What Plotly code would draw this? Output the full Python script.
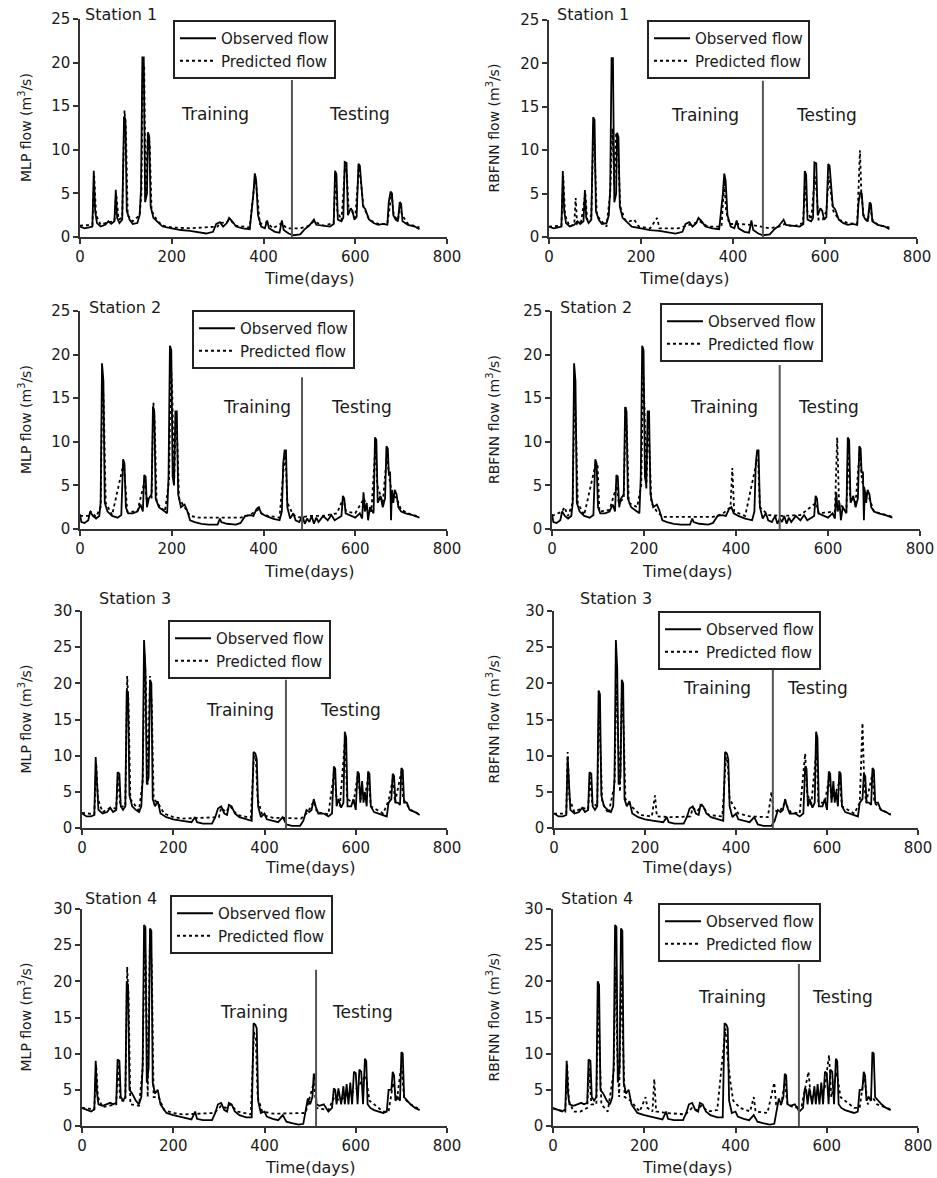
import plotly.graph_objects as go

W, H = 937, 1178
FONT = "DejaVu Sans"
TXT = "#1a1a1a"

# ---------------- data (day, flow m3/s) ----------------
st1_obs = [(0,1.2),(10,1.0),(20,1.1),(27,1.2),(30,7.6),(33,3.0),(37,1.6),(45,1.2),(55,1.4),(62,1.8),(68,1.5),
           (75,1.8),(78,5.4),(81,2.2),(86,1.6),(92,2.0),(96,13.8),(99,13.5),(102,3.0),(108,2.0),(115,1.5),(125,1.6),
           (130,2.5),(133,5.5),(136,20.6),(139,20.6),(142,4.0),(146,5.0),(148,12.0),(151,11.5),(154,3.5),(160,2.2),
           (168,1.8),(180,1.2),(200,1.0),(220,0.8),(240,0.7),(250,0.6),(260,0.5),(275,0.4),(290,0.6),(297,1.5),
           (305,1.7),(312,1.2),(320,1.6),(325,2.2),(332,1.8),(340,1.2),(355,1.0),(370,0.9),(378,5.0),(381,7.3),
           (384,6.5),(388,2.5),(395,1.2),(403,1.0),(408,1.9),(412,1.0),(425,0.6),(435,0.5),(440,1.9),(444,0.8),
           (455,0.4),(465,0.2),(480,0.3),(490,0.9),(500,1.3),(505,1.6),(510,2.0),(515,1.4),(530,1.3),(545,1.2),
           (553,1.5),(556,7.6),(559,7.2),(562,2.0),(570,1.8),(574,2.2),(577,8.6),(581,8.5),(584,2.5),(590,3.3),
           (594,3.0),(598,2.0),(603,2.3),(607,8.4),(610,8.2),(613,6.5),(617,3.5),(622,3.2),(630,2.0),(640,1.6),
           (650,1.4),(660,1.5),(670,1.4),(673,4.0),(677,5.2),(680,5.0),(683,2.5),(688,2.0),(693,1.8),(697,4.0),
           (700,3.8),(703,1.8),(715,1.4),(730,1.2),(740,0.9)]
st1_mlp = [(0,1.3),(27,1.4),(31,7.0),(35,2.5),(45,1.4),(62,1.7),(75,1.8),(79,5.0),(84,2.0),(92,2.2),(97,14.5),
           (100,12.5),(104,2.5),(115,1.8),(130,2.5),(134,5.0),(137,20.0),(140,19.5),(143,4.5),(148,12.0),(152,10.5),
           (156,3.0),(168,1.9),(180,1.3),(200,1.1),(240,1.0),(300,1.2),(305,1.6),(320,1.7),(326,2.0),(340,1.3),
           (370,1.1),(379,5.5),(382,7.0),(386,5.0),(392,1.5),(408,1.7),(420,1.0),(440,1.6),(450,1.0),(480,1.0),
           (495,1.2),(510,1.8),(530,1.3),(553,1.6),(557,7.2),(561,3.0),(570,1.9),(578,8.3),(582,7.0),(586,2.8),
           (592,3.0),(600,2.2),(608,8.0),(612,6.5),(618,3.5),(630,2.0),(650,1.5),(670,1.5),(675,3.8),(679,5.0),
           (684,2.5),(693,1.9),(698,3.5),(702,2.5),(715,1.5),(740,1.1)]
st1_rbf = [(0,1.2),(27,1.3),(31,7.0),(35,2.5),(45,1.2),(55,1.5),(58,4.5),(61,1.5),(70,1.8),(79,5.0),(83,2.0),
           (92,2.5),(97,13.0),(101,8.0),(104,2.5),(118,1.6),(125,1.2),(133,5.0),(138,12.5),(142,6.0),(146,12.0),
           (150,10.0),(155,3.5),(165,2.0),(175,1.8),(185,2.0),(195,1.2),(220,1.0),(235,2.2),(240,1.0),(280,1.0),
           (300,1.3),(310,1.5),(328,1.8),(345,1.2),(375,1.2),(381,6.5),(385,3.0),(392,1.5),(410,1.5),(440,1.4),
           (460,1.2),(480,1.0),(500,1.2),(512,1.5),(530,1.2),(552,1.6),(557,6.0),(561,3.0),(570,2.0),(578,7.0),
           (582,5.0),(586,2.0),(595,2.0),(603,3.0),(608,7.0),(612,5.5),(618,3.0),(630,2.0),(650,1.6),(670,1.5),
           (676,10.0),(679,5.0),(684,2.5),(693,1.8),(698,3.5),(703,2.0),(715,1.4),(740,1.1)]

st2_obs = [(0,1.7),(3,0.8),(10,0.7),(18,1.0),(22,2.0),(28,1.5),(35,1.2),(42,1.5),(45,3.0),(48,19.0),(51,17.0),
           (54,3.0),(60,2.0),(70,1.5),(82,1.3),(90,1.6),(94,8.0),(97,7.5),(100,2.5),(105,1.8),(115,1.8),(125,2.0),
           (132,2.8),(137,2.0),(140,6.2),(143,6.0),(146,2.5),(150,3.5),(156,4.0),(159,14.0),(162,13.5),(165,3.5),
           (172,2.5),(180,2.2),(190,1.8),(193,6.0),(196,21.0),(199,20.5),(202,6.0),(205,5.0),(208,13.5),(211,13.5),
           (214,4.0),(220,2.5),(228,2.8),(233,2.2),(240,1.0),(250,0.8),(265,0.6),(280,0.5),(300,0.5),(305,1.2),
           (308,0.8),(320,0.6),(340,0.5),(350,0.7),(360,1.5),(370,1.6),(378,1.5),(385,2.3),(390,2.5),(395,1.8),
           (405,1.5),(420,1.2),(435,1.0),(440,2.0),(443,7.5),(446,9.0),(449,9.0),(452,2.5),(458,1.2),(465,1.8),
           (470,1.0),(478,0.8),(485,1.5),(490,0.6),(495,1.2),(500,0.8),(505,1.5),(510,0.6),(515,1.3),(520,0.8),
           (530,1.5),(540,1.0),(548,1.6),(555,1.0),(565,1.4),(570,1.5),(573,3.8),(576,3.5),(579,1.8),(590,1.5),
           (600,1.3),(610,1.8),(615,1.2),(618,4.2),(621,2.0),(625,3.0),(628,1.0),(632,2.5),(640,1.8),(643,10.5),
           (646,10.2),(649,3.0),(655,3.8),(660,2.5),(665,3.5),(668,9.5),(671,9.2),(673,6.5),(676,6.5),(678,1.0),
           (680,4.5),(683,3.0),(686,4.5),(690,4.0),(694,2.5),(700,2.0),(710,1.8),(725,1.6),(740,1.3)]
st2_mlp = [(0,1.5),(20,1.5),(23,2.0),(35,1.4),(45,2.5),(49,17.5),(52,14.0),(56,3.0),(70,1.6),(95,7.5),(99,5.0),
           (103,2.0),(125,2.0),(141,5.5),(145,3.5),(156,3.5),(160,14.5),(163,12.0),(167,3.0),(185,2.0),(194,5.5),
           (198,19.0),(201,16.0),(205,5.0),(209,13.0),(212,10.0),(216,3.5),(228,2.5),(240,1.5),(260,1.3),(350,1.3),
           (370,1.6),(388,2.2),(400,1.6),(435,1.3),(444,7.0),(448,8.5),(452,3.0),(465,1.6),(480,1.3),(500,1.5),
           (530,1.5),(560,1.8),(574,3.5),(580,2.0),(600,1.8),(619,3.5),(625,2.5),(635,2.0),(644,9.5),(648,5.0),
           (660,3.0),(669,8.5),(674,6.0),(680,4.0),(690,3.5),(700,2.2),(720,1.7),(740,1.4)]
st2_rbf = [(0,1.5),(22,2.0),(27,2.5),(35,1.5),(45,3.0),(49,16.0),(52,12.0),(56,3.0),(70,1.6),(95,7.5),(99,7.5),
           (103,2.0),(125,2.2),(141,5.0),(145,3.0),(156,3.5),(160,14.0),(163,11.0),(167,3.0),(185,2.5),(194,5.0),
           (198,18.0),(201,14.0),(205,4.5),(209,12.0),(212,9.0),(216,3.0),(228,2.0),(240,1.4),(350,1.4),(370,1.7),
           (388,2.5),(392,7.0),(396,2.0),(420,1.5),(444,7.5),(448,8.0),(452,2.5),(470,1.6),(500,1.5),(540,1.6),
           (574,3.0),(580,1.8),(615,2.0),(620,10.5),(624,3.0),(640,2.0),(644,9.5),(648,3.5),(660,3.0),(669,9.0),
           (674,5.5),(680,4.5),(690,3.5),(700,2.0),(720,1.7),(740,1.4)]

st3_obs = [(0,2.0),(10,1.6),(20,1.6),(27,1.8),(30,9.8),(33,5.0),(36,2.5),(45,2.0),(55,2.2),(62,2.8),(68,2.2),
           (75,2.5),(78,7.7),(82,7.5),(85,3.0),(90,2.5),(95,3.0),(98,19.0),(101,18.5),(104,4.5),(110,3.0),(118,2.5),
           (125,2.2),(130,3.0),(133,7.0),(136,26.0),(139,22.0),(142,6.0),(146,7.0),(149,20.5),(152,20.0),(155,4.0),
           (160,3.0),(166,3.7),(172,2.0),(185,1.5),(200,1.2),(220,1.0),(240,0.8),(248,1.5),(252,0.8),(265,0.6),
           (285,0.6),(292,1.5),(298,2.7),(305,3.0),(312,2.0),(318,1.8),(322,3.2),(328,3.0),(335,2.0),(345,1.5),
           (360,1.2),(372,1.0),(376,10.5),(380,10.3),(383,9.5),(386,3.0),(392,1.5),(400,2.0),(405,1.2),(418,1.0),
           (430,0.8),(440,1.5),(448,0.5),(460,0.3),(478,0.3),(485,1.0),(492,2.5),(498,2.2),(503,2.5),(508,4.0),
           (512,3.0),(518,2.0),(530,2.0),(540,1.6),(548,2.0),(552,8.5),(555,8.2),(558,3.0),(562,4.0),(568,2.8),
           (573,3.5),(576,13.3),(579,12.5),(582,3.0),(590,3.0),(595,4.0),(600,2.5),(604,7.8),(607,7.5),(610,3.5),
           (614,6.5),(617,3.5),(620,5.0),(624,3.0),(627,7.8),(630,7.5),(633,3.0),(640,2.2),(650,2.0),(660,1.8),
           (668,1.6),(672,3.5),(678,4.0),(681,7.5),(684,7.2),(687,3.5),(692,3.5),(697,3.2),(700,8.3),(703,8.0),
           (706,3.5),(712,3.5),(718,2.5),(730,2.2),(740,1.8)]
st3_mlp = [(0,2.1),(27,1.9),(31,9.0),(35,4.0),(45,2.2),(62,2.8),(75,2.7),(79,7.2),(84,3.0),(95,3.0),(99,21.0),
           (102,17.0),(106,4.0),(125,2.4),(133,6.5),(137,24.0),(140,20.0),(144,6.0),(149,21.0),(153,17.0),(157,4.0),
           (168,3.3),(180,2.0),(200,1.5),(220,1.3),(300,1.5),(305,2.8),(315,2.2),(325,3.0),(340,1.8),(370,1.4),
           (377,10.0),(381,9.5),(385,4.0),(395,1.8),(420,1.4),(440,1.4),(480,1.3),(495,2.2),(508,3.7),(515,2.2),
           (540,1.9),(553,8.0),(557,4.5),(565,3.0),(577,12.5),(581,4.0),(595,3.5),(605,7.5),(610,4.0),(620,4.5),
           (628,7.0),(633,3.0),(660,2.0),(672,3.8),(682,7.0),(686,3.5),(700,7.8),(704,4.0),(720,2.5),(740,1.9)]
st3_rbf = [(0,2.0),(27,2.0),(30,10.5),(34,4.0),(45,2.2),(62,2.8),(75,2.6),(79,7.0),(84,3.5),(95,3.0),(99,17.0),
           (102,12.0),(106,3.5),(120,2.0),(133,6.0),(137,20.0),(141,12.0),(145,5.0),(149,18.0),(153,14.0),(157,4.0),
           (170,3.0),(190,1.8),(215,1.6),(222,4.5),(226,1.6),(260,1.5),(300,1.6),(305,2.8),(315,2.3),(325,3.2),
           (340,1.8),(370,1.6),(378,9.8),(382,9.0),(386,4.0),(395,3.0),(405,2.0),(430,1.6),(470,1.5),(478,5.0),
           (482,2.5),(495,2.2),(508,3.5),(520,2.2),(540,2.0),(552,10.3),(556,5.0),(565,3.0),(577,11.0),(581,3.5),
           (595,3.5),(605,7.0),(610,4.0),(620,5.0),(628,6.5),(633,3.0),(660,2.0),(672,3.5),(678,14.5),(682,6.0),
           (686,3.5),(700,7.5),(704,3.5),(720,2.5),(740,1.9)]

st4_obs = [(0,2.5),(10,2.2),(20,2.0),(27,2.3),(30,9.0),(33,4.5),(36,3.0),(45,2.8),(55,3.0),(62,3.2),(68,3.0),
           (75,3.2),(78,9.2),(82,9.0),(85,4.0),(90,3.5),(95,4.0),(98,20.0),(101,19.5),(104,5.0),(110,4.5),(118,3.5),
           (125,3.0),(130,4.0),(133,8.5),(136,27.8),(139,27.5),(142,6.0),(146,8.0),(149,27.3),(152,27.0),(155,6.0),
           (160,4.5),(166,5.0),(172,3.0),(185,1.8),(200,1.5),(220,1.2),(240,0.9),(248,2.0),(252,1.0),(265,0.8),
           (285,0.8),(292,1.8),(298,3.0),(305,3.2),(312,2.2),(318,2.0),(322,3.2),(328,3.0),(335,2.0),(345,1.5),
           (360,1.2),(372,1.2),(376,14.2),(380,14.0),(383,13.5),(386,3.5),(392,1.8),(400,2.0),(405,1.3),(418,1.0),
           (430,0.8),(440,1.5),(448,0.6),(460,0.4),(475,0.2),(485,0.3),(490,2.0),(495,3.8),(500,3.0),(505,4.0),
           (508,7.2),(511,7.0),(514,3.0),(520,2.8),(530,3.0),(540,2.0),(548,2.5),(552,5.2),(555,5.0),(558,3.0),
           (562,5.2),(568,3.0),(573,5.5),(576,3.0),(580,5.8),(584,3.0),(588,6.0),(592,3.0),(596,7.5),(600,7.3),
           (604,3.0),(608,7.8),(612,7.5),(616,3.0),(620,9.3),(623,9.0),(626,3.0),(632,2.5),(640,2.2),(650,2.0),
           (660,1.8),(668,2.0),(672,5.0),(678,5.0),(681,7.5),(684,7.0),(687,3.5),(692,4.0),(697,3.5),(700,10.2),
           (703,10.0),(706,4.0),(712,3.5),(720,3.0),(730,2.5),(740,2.2)]
st4_mlp = [(0,2.5),(27,2.3),(31,8.5),(35,4.0),(45,2.6),(75,3.0),(79,8.5),(84,3.5),(95,3.5),(99,22.0),(102,18.0),
           (106,3.0),(125,2.8),(133,8.0),(137,26.0),(140,22.0),(144,4.0),(149,26.5),(153,22.0),(157,4.0),(168,4.0),
           (180,2.2),(200,1.8),(220,1.6),(290,1.8),(305,2.8),(315,2.5),(325,3.0),(340,2.0),(370,1.6),(377,13.0),
           (381,12.0),(385,4.0),(395,2.0),(420,1.7),(440,1.7),(490,1.8),(496,3.2),(508,6.0),(514,2.5),(540,2.2),
           (553,4.0),(565,3.5),(575,4.0),(590,4.5),(600,5.0),(612,6.0),(622,7.0),(630,3.5),(660,2.0),(672,2.0),
           (682,6.0),(690,3.5),(700,8.5),(706,3.8),(720,3.0),(740,2.3)]
st4_rbf = [(0,2.4),(27,2.0),(31,8.5),(35,3.5),(45,2.0),(60,2.0),(75,2.5),(79,8.0),(84,3.0),(95,3.0),(99,17.0),
           (102,10.0),(106,3.0),(120,2.0),(133,7.5),(137,22.0),(141,10.0),(145,4.0),(149,21.0),(153,12.0),(157,4.0),
           (170,3.5),(190,2.0),(203,4.0),(207,2.5),(218,2.0),(222,6.5),(226,2.0),(250,1.8),(290,1.6),(305,2.5),
           (315,2.2),(325,2.8),(340,2.0),(360,2.2),(378,13.5),(382,10.0),(389,6.0),(395,3.5),(410,2.5),(432,2.0),
           (440,4.0),(444,2.0),(470,1.8),(485,6.0),(489,3.0),(500,3.0),(508,6.0),(514,3.0),(530,2.5),(545,2.8),
           (560,7.5),(565,4.0),(580,4.5),(595,5.0),(605,9.8),(610,4.0),(622,7.5),(630,4.0),(660,2.5),(672,2.5),
           (682,7.0),(690,3.0),(700,4.0),(710,3.0),(740,2.3)]

stations = ["Station 1", "Station 2", "Station 3", "Station 4"]
models = ["MLP", "RBFNN"]
observed = [st1_obs, st2_obs, st3_obs, st4_obs]
predicted = [[st1_mlp, st1_rbf], [st2_mlp, st2_rbf], [st3_mlp, st3_rbf], [st4_mlp, st4_rbf]]
split_day = [[462, 465], [484, 495], [447, 481], [513, 539]]
split_top = [[18.0, 18.0], [17.4, 18.8], [20.5, 22.5], [21.6, 22.4]]
y_max = [25, 25, 30, 30]
x_ticks = [0, 200, 400, 600, 800]

# ---------------- layout geometry (pixels) ----------------
x_dom = [[(80, 447), (549, 917)], [(80, 447), (552, 920)], [(82, 447), (554, 918)], [(82, 447), (553, 918)]]
y_dom = [[(19, 237), (20, 237)], [(311, 529), (311, 529)], [(611, 828), (611, 828)], [(909, 1126), (909, 1126)]]
legend_pos = [[(173, 20), (647, 20)], [(192, 310), (660, 303)], [(168, 620), (658, 611)], [(170, 895), (658, 903)]]
station_pos = [[(83, 15), (555, 15)], [(87, 307), (558, 307)], [(97, 598), (578, 598)], [(83, 898), (559, 898)]]
train_pos = [[(294, 14.1), (339, 14.1)], [(386, 14.0), (374, 14.0)], [(346, 16.3), (358, 19.4)], [(377, 15.8), (392, 17.8)]]
test_pos = [[(610, 14.1), (604, 14.1)], [(614, 14.0), (601, 14.0)], [(588, 16.3), (580, 19.4)], [(614, 15.8), (634, 17.8)]]
xtitle_y = [278, 571, 867, 1167]
ytitle_x = [25, 493]

def px(v):
    return v / W

def py(v):
    return 1 - v / H

fig = go.Figure()
annotations = []
layout = dict(template="none", width=W, height=H, margin=dict(l=0, r=0, t=0, b=0, autoexpand=False),
              paper_bgcolor="white", plot_bgcolor="white", hovermode=False,
              font=dict(family=FONT, color=TXT, size=14))

for r in range(4):
    for c in range(2):
        i = r * 2 + c
        xa = "x" if i == 0 else f"x{i+1}"
        ya = "y" if i == 0 else f"y{i+1}"
        lg = "legend" if i == 0 else f"legend{i+1}"
        obs = observed[r]
        pred = predicted[r][c]
        fig.add_trace(go.Scatter(x=[d for d, _ in obs], y=[q for _, q in obs], mode="lines",
                                 name="Observed flow", line=dict(color="black", width=1.8),
                                 xaxis=xa, yaxis=ya, legend=lg))
        fig.add_trace(go.Scatter(x=[d for d, _ in pred], y=[q for _, q in pred], mode="lines",
                                 name="Predicted flow", line=dict(color="black", width=1.8, dash="dot"),
                                 xaxis=xa, yaxis=ya, legend=lg))
        fig.add_trace(go.Scatter(x=[split_day[r][c]] * 2, y=[0, split_top[r][c]], mode="lines",
                                 line=dict(color="#555555", width=2), showlegend=False,
                                 xaxis=xa, yaxis=ya))
        x0, x1 = x_dom[r][c]
        y0, y1 = y_dom[r][c]
        axis_common = dict(showgrid=False, zeroline=False, showline=True, linecolor="#333333", linewidth=1.5,
                           ticks="outside", ticklen=5, tickwidth=1.5, tickcolor="#333333", automargin=False,
                           tickfont=dict(family=FONT, size=15, color=TXT))
        layout["xaxis" if i == 0 else f"xaxis{i+1}"] = dict(
            domain=[px(x0), px(x1)], anchor=ya, range=[0, 800], tickvals=x_ticks, **axis_common)
        layout["yaxis" if i == 0 else f"yaxis{i+1}"] = dict(
            domain=[py(y1), py(y0)], anchor=xa, range=[0, y_max[r]], dtick=5, **axis_common)
        lx, ly = legend_pos[r][c]
        layout[lg] = dict(x=px(lx), y=py(ly), xanchor="left", yanchor="top", bgcolor="white",
                          bordercolor="#222222", borderwidth=2, font=dict(family=FONT, size=15, color=TXT),
                          tracegroupgap=0, itemwidth=36)
        sx, sy = station_pos[r][c]
        annotations.append(dict(text=stations[r], x=px(sx), y=py(sy), xref="paper", yref="paper",
                                xanchor="left", yanchor="middle", showarrow=False,
                                font=dict(family=FONT, size=16, color=TXT)))
        tx, ty = train_pos[r][c]
        annotations.append(dict(text="Training", x=tx, y=ty, xref=xa, yref=ya, showarrow=False,
                                font=dict(family=FONT, size=17, color=TXT)))
        tx, ty = test_pos[r][c]
        annotations.append(dict(text="Testing", x=tx, y=ty, xref=xa, yref=ya, showarrow=False,
                                font=dict(family=FONT, size=17, color=TXT)))
        annotations.append(dict(text="Time(days)", x=px((x0 + x1) / 2 - 2), y=py(xtitle_y[r]),
                                xref="paper", yref="paper", showarrow=False, yanchor="middle",
                                font=dict(family=FONT, size=16, color=TXT)))
        annotations.append(dict(text=f"{models[c]} flow (m<sup>3</sup>/s)", x=px(ytitle_x[c]),
                                y=py((y0 + y1) / 2), xref="paper", yref="paper", showarrow=False,
                                textangle=-90, xanchor="center", yanchor="middle",
                                font=dict(family=FONT, size=14, color=TXT)))

layout["annotations"] = annotations
fig.update_layout(**layout)
fig.write_html("out.html", config={"displayModeBar": False},
               post_script="document.body.style.margin='0';")
